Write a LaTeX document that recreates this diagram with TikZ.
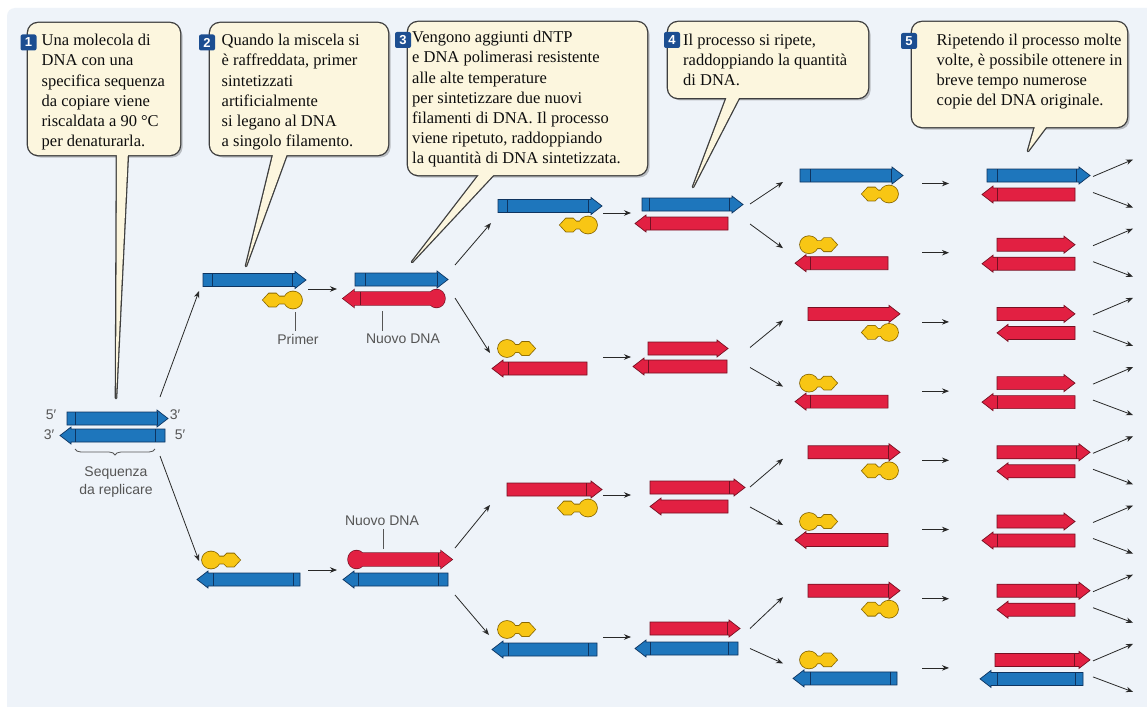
\documentclass[tikz,border=0pt]{standalone}
\usepackage{fontspec}
\setmainfont{Liberation Serif}
\newfontfamily\lblfont{Liberation Sans}
\usetikzlibrary{arrows.meta,decorations.pathreplacing}

\definecolor{bgblue}{RGB}{238,243,249}
\definecolor{cream}{RGB}{252,246,222}
\definecolor{boxline}{RGB}{62,62,62}
\definecolor{dnablue}{RGB}{30,118,188}
\definecolor{dnabluedk}{RGB}{14,52,96}
\definecolor{dnared}{RGB}{226,32,66}
\definecolor{dnareddk}{RGB}{118,16,34}
\definecolor{primery}{RGB}{248,198,20}
\definecolor{primerdk}{RGB}{138,104,0}
\definecolor{badgeblue}{RGB}{28,78,145}
\definecolor{labelgray}{RGB}{85,85,85}
\definecolor{arrowgray}{RGB}{40,40,40}

\tikzset{
 flow/.style={arrowgray, line width=0.8pt, -{Stealth[length=7pt,width=5.5pt]}},
 lbl/.style={font=\lblfont\fontsize{14}{17}\selectfont, text=labelgray, inner sep=1pt},
 lblline/.style={labelgray, line width=0.8pt},
 ctext/.style={font=\fontsize{16.5}{20.2}\selectfont, align=left, inner sep=0pt, anchor=north west, text=black!95},
 badge/.style={fill=badgeblue, rounded corners=2pt, minimum size=16pt, inner sep=0pt, text=white, font=\lblfont\bfseries\fontsize{13}{13}\selectfont},
 boxedge/.style={boxline, line width=2.6pt, line join=round},
 strandedge/.style={line width=0.7pt, line join=miter},
 primeredge/.style={primerdk, line width=1.6pt, line join=miter, miter limit=3},
 bulbedge/.style={dnareddk, line width=1.4pt, line join=miter},
}

% right-pointing strand: x1 x2 yc colour
\newcommand{\dnaR}[4]{\filldraw[strandedge, fill=#4, draw=#4dk] (#1,#3-6.5) -- (#2-11,#3-6.5) -- (#2-11,#3-8.5) -- (#2,#3) -- (#2-11,#3+8.5) -- (#2-11,#3+6.5) -- (#1,#3+6.5) -- cycle;}
% left-pointing strand
\newcommand{\dnaL}[4]{\filldraw[strandedge, fill=#4, draw=#4dk] (#1,#3) -- (#1+11,#3-8.5) -- (#1+11,#3-6.5) -- (#2,#3-6.5) -- (#2,#3+6.5) -- (#1+11,#3+6.5) -- (#1+11,#3+8.5) -- cycle;}
% mark: x yc colour
\newcommand{\mk}[3]{\draw[#3dk, line width=0.7pt] (#1,#2-6.5) -- (#1,#2+6.5);}
% primer pointing left: tip x1, bulb end x2, yc
\newcommand{\primerL}[3]{%
 \draw[primeredge] (#1,#3) -- (#1+6,#3-6.5) -- (#1+13,#3-6.5) -- (#1+16,#3-3.5) -- (#2-12,#3-3.5) -- (#2-12,#3+3.5) -- (#1+16,#3+3.5) -- (#1+13,#3+6.5) -- (#1+6,#3+6.5) -- cycle (#2-9,#3) ellipse [x radius=9pt, y radius=8.5pt];
 \fill[primery] (#1,#3) -- (#1+6,#3-6.5) -- (#1+13,#3-6.5) -- (#1+16,#3-3.5) -- (#2-12,#3-3.5) -- (#2-12,#3+3.5) -- (#1+16,#3+3.5) -- (#1+13,#3+6.5) -- (#1+6,#3+6.5) -- cycle;
 \fill[primery] (#2-9,#3) ellipse [x radius=9pt, y radius=8.5pt];}
% primer pointing right: bulb x1, tip x2, yc
\newcommand{\primerR}[3]{%
 \draw[primeredge] (#2,#3) -- (#2-6,#3-6.5) -- (#2-13,#3-6.5) -- (#2-16,#3-3.5) -- (#1+12,#3-3.5) -- (#1+12,#3+3.5) -- (#2-16,#3+3.5) -- (#2-13,#3+6.5) -- (#2-6,#3+6.5) -- cycle (#1+9,#3) ellipse [x radius=9pt, y radius=8.5pt];
 \fill[primery] (#2,#3) -- (#2-6,#3-6.5) -- (#2-13,#3-6.5) -- (#2-16,#3-3.5) -- (#1+12,#3-3.5) -- (#1+12,#3+3.5) -- (#2-16,#3+3.5) -- (#2-13,#3+6.5) -- (#2-6,#3+6.5) -- cycle;
 \fill[primery] (#1+9,#3) ellipse [x radius=9pt, y radius=8.5pt];}
% new red strand with bulb at right end, pointing left
\newcommand{\bulbL}[3]{%
 \draw[bulbedge] (#1,#3) -- (#1+11,#3-8.5) -- (#1+11,#3-6.5) -- (#2-8,#3-6.5) -- (#2-8,#3+6.5) -- (#1+11,#3+6.5) -- (#1+11,#3+8.5) -- cycle (#2-8.5,#3) ellipse [x radius=8.5pt, y radius=9pt];
 \fill[dnared] (#1,#3) -- (#1+11,#3-8.5) -- (#1+11,#3-6.5) -- (#2-8,#3-6.5) -- (#2-8,#3+6.5) -- (#1+11,#3+6.5) -- (#1+11,#3+8.5) -- cycle;
 \fill[dnared] (#2-8.5,#3) ellipse [x radius=8.5pt, y radius=9pt];}
% new red strand with bulb at left end, pointing right
\newcommand{\bulbR}[3]{%
 \draw[bulbedge] (#2,#3) -- (#2-11,#3-8.5) -- (#2-11,#3-6.5) -- (#1+8,#3-6.5) -- (#1+8,#3+6.5) -- (#2-11,#3+6.5) -- (#2-11,#3+8.5) -- cycle (#1+8.5,#3) ellipse [x radius=8.5pt, y radius=9pt];
 \fill[dnared] (#2,#3) -- (#2-11,#3-8.5) -- (#2-11,#3-6.5) -- (#1+8,#3-6.5) -- (#1+8,#3+6.5) -- (#2-11,#3+6.5) -- (#2-11,#3+8.5) -- cycle;
 \fill[dnared] (#1+8.5,#3) ellipse [x radius=8.5pt, y radius=9pt];}
% callout: x1 y1 x2 y2 tailA tailB tipx tipy
\newcommand{\callout}[8]{%
 \fill[black,opacity=.22,rounded corners=10pt] (#1+2.5,#2+2.5) rectangle (#3+2.5,#4+2.5);
 \draw[boxedge, rounded corners=10pt] (#1,#2) rectangle (#3,#4);
 \draw[boxedge] (#5,#4-4) -- (#7,#8) -- (#6,#4-4);
 \fill[cream, rounded corners=10pt] (#1,#2) rectangle (#3,#4);
 \fill[cream] (#5,#4-4) -- (#7,#8) -- (#6,#4-4) -- cycle;}

\begin{document}
\begin{tikzpicture}[x=1pt,y=-1pt]
\useasboundingbox (0,0) rectangle (1147,706);
\fill[white] (0,0) rectangle (1147,706);
\begin{scope}
 \clip (0,0) rectangle (1147,706);
 \fill[bgblue, rounded corners=8pt] (7,8) rectangle (1175,735);
\end{scope}

% ---------- callouts ----------
\callout{28}{23}{180}{155}{117}{128}{116}{398}
\callout{210}{23}{388}{155}{274}{288}{246}{266}
\callout{408}{22}{647}{175}{482}{497}{412}{262}
\callout{668}{22}{868}{98}{728}{741}{693}{187}
\callout{912}{22}{1127}{127}{1036}{1049}{1028}{151}

\node[badge] (b1) at (28.5,42.5) {1};
\node[badge] (b2) at (207,42.5) {2};
\node[badge] (b3) at (403,40) {3};
\node[badge] (b4) at (672,40) {4};
\node[badge] (b5) at (909,41) {5};

\node[ctext] (t1) at (41.5,34) {Una molecola di\\DNA con una\\specifica sequenza\\da copiare viene\\riscaldata a 90 °C\\per denaturarla.};
\node[ctext] (t2) at (221.5,34) {Quando la miscela si\\è raffreddata, primer\\sintetizzati\\artificialmente\\si legano al DNA\\a singolo filamento.};
\node[ctext] (t3) at (412,31) {Vengono aggiunti dNTP\\e DNA polimerasi resistente\\alle alte temperature\\per sintetizzare due nuovi\\filamenti di DNA. Il processo\\viene ripetuto, raddoppiando\\la quantità di DNA sintetizzata.};
\node[ctext] (t4) at (683,33.5) {Il processo si ripete,\\raddoppiando la quantità\\di DNA.};
\node[ctext] (t5) at (936.5,33.5) {Ripetendo il processo molte\\volte, è possibile ottenere in\\breve tempo numerose\\copie del DNA originale.};

% ---------- step 1 ----------
\dnaR{67}{168}{418.5}{dnablue} \mk{75}{418.5}{dnablue} \mk{157}{418.5}{dnablue}
\dnaL{60}{165}{435.5}{dnablue} \mk{75}{435.5}{dnablue} \mk{155}{435.5}{dnablue}
\node[lbl] (p5a) at (51,415) {5′};
\node[lbl] (p3a) at (175,415) {3′};
\node[lbl] (p3b) at (49,435) {3′};
\node[lbl] (p5b) at (180,435) {5′};
\draw[labelgray, line width=0.8pt, decorate, decoration={brace, amplitude=6pt}] (155,449) -- (75,449);
\node[lbl, align=center, font=\lblfont\fontsize{14}{18}\selectfont] (seq) at (116,482) {Sequenza\\da replicare};

\coordinate (a1s) at (160,397); \coordinate (a1e) at (199,291);
\coordinate (a2s) at (160,456); \coordinate (a2e) at (199,561);
\draw[flow] (a1s) -- (a1e);
\draw[flow] (a2s) -- (a2e);

% ---------- step 2 ----------
\dnaR{203}{306}{280}{dnablue} \mk{212}{280}{dnablue} \mk{292}{280}{dnablue}
\primerL{263}{302}{300}
\primerR{202}{240}{560}
\dnaL{197}{300}{579.5}{dnablue} \mk{213}{579.5}{dnablue} \mk{293}{579.5}{dnablue}

\node[lbl] (lprim) at (298,339) {Primer};
\coordinate (cprim) at (295,312);
\draw[lblline, shorten >=2pt] (cprim) -- (cprim |- lprim.north);

\coordinate (b2s) at (308,289); \coordinate (b2e) at (337,289);
\coordinate (b3s) at (308,570); \coordinate (b3e) at (337,570);
\draw[flow] (b2s) -- (b2e);
\draw[flow] (b3s) -- (b3e);

% ---------- step 3 ----------
\dnaR{355}{448}{279.5}{dnablue} \mk{365}{279.5}{dnablue} \mk{437}{279.5}{dnablue}
\bulbL{343}{445}{298.5} \mk{360}{298.5}{dnared}
\bulbR{348}{452}{559.5} \mk{438}{559.5}{dnared}
\dnaL{343}{448}{579.5}{dnablue} \mk{358}{579.5}{dnablue} \mk{438}{579.5}{dnablue}

\node[lbl] (lnew1) at (403,339) {Nuovo DNA};
\coordinate (cnew1) at (382,311);
\draw[lblline, shorten >=2pt] (cnew1) -- (cnew1 |- lnew1.north);
\node[lbl] (lnew2) at (382,521) {Nuovo DNA};
\coordinate (cnew2) at (383,549);
\draw[lblline, shorten >=2pt] (cnew2) -- (cnew2 |- lnew2.south);

\coordinate (c1s) at (455,265); \coordinate (c1e) at (491,223);
\coordinate (c2s) at (455,298); \coordinate (c2e) at (490,353);
\coordinate (c3s) at (455,548); \coordinate (c3e) at (490,505);
\coordinate (c4s) at (455,595); \coordinate (c4e) at (489,635);
\foreach \n in {1,2,3,4} {\draw[flow] (c\n s) -- (c\n e);}

% ---------- step 4 ----------
\dnaR{498}{602}{206}{dnablue} \mk{507}{206}{dnablue} \mk{588}{206}{dnablue}
\primerL{560}{597}{225}
\primerR{498}{535}{348.5}
\dnaL{492}{587}{368.5}{dnared} \mk{508}{368.5}{dnared}
\dnaR{507}{602}{489.5}{dnared} \mk{586}{489.5}{dnared}
\primerL{558}{597}{508}
\primerR{498}{535}{629.5}
\dnaL{492}{597}{649.5}{dnablue} \mk{508}{649.5}{dnablue} \mk{588}{649.5}{dnablue}

\coordinate (d1s) at (603,213); \coordinate (d1e) at (631,213);
\coordinate (d2s) at (603,357); \coordinate (d2e) at (631,357);
\coordinate (d3s) at (603,495); \coordinate (d3e) at (631,495);
\coordinate (d4s) at (603,637); \coordinate (d4e) at (631,637);
\foreach \n in {1,2,3,4} {\draw[flow] (d\n s) -- (d\n e);}

% ---------- step 5 ----------
\dnaR{642}{743}{204.5}{dnablue} \mk{649}{204.5}{dnablue} \mk{729}{204.5}{dnablue}
\dnaL{635}{728}{223.5}{dnared} \mk{650}{223.5}{dnared}
\dnaR{648}{728}{348.5}{dnared}
\dnaL{633}{727}{366.5}{dnared} \mk{648}{366.5}{dnared}
\dnaR{650}{745}{487.5}{dnared} \mk{729}{487.5}{dnared}
\dnaL{650}{728}{506.5}{dnared}
\dnaR{650}{740}{628.5}{dnared} \mk{727}{628.5}{dnared}
\dnaL{635}{738}{648.5}{dnablue} \mk{650}{648.5}{dnablue} \mk{728}{648.5}{dnablue}

% arrows step 5 -> column 6
\foreach \j/\c/\ua/\ub in {1/214/175.5/244.7, 2/357.5/313.9/383.1, 3/497/452.3/521.5, 4/638.5/590.7/659.9} {
 \coordinate (e\j a) at (750,\c-10); \coordinate (f\j a) at (783,\ua+6.5);
 \coordinate (e\j b) at (750,\c+10); \coordinate (f\j b) at (783,\ub+3.5);
 \draw[flow] (e\j a) -- (f\j a);
 \draw[flow] (e\j b) -- (f\j b);
}

% ---------- column 6 ----------
\dnaR{800}{903}{175.5}{dnablue} \mk{810}{175.5}{dnablue} \mk{891}{175.5}{dnablue}
\primerL{862}{898}{194}
\primerR{800}{837}{244.7}
\dnaL{795}{888}{263.2}{dnared} \mk{810}{263.2}{dnared}
\dnaR{808}{900}{313.9}{dnared}
\primerL{862}{898}{332.4}
\primerR{800}{837}{383.1}
\dnaL{795}{888}{401.6}{dnared} \mk{810}{401.6}{dnared}
\dnaR{808}{900}{452.3}{dnared} \mk{888}{452.3}{dnared}
\primerL{862}{898}{470.8}
\primerR{800}{837}{521.5}
\dnaL{795}{888}{540}{dnared}
\dnaR{808}{900}{590.7}{dnared} \mk{888}{590.7}{dnared}
\primerL{862}{898}{609.2}
\primerR{800}{837}{659.9}
\dnaL{793}{897}{678.4}{dnablue} \mk{810}{678.4}{dnablue} \mk{890}{678.4}{dnablue}

% arrows column 6 -> 7 and outgoing arrows
\foreach \k/\u in {1/175.5, 2/244.7, 3/313.9, 4/383.1, 5/452.3, 6/521.5, 7/590.7, 8/659.9} {
 \coordinate (g\k s) at (922,\u+8); \coordinate (g\k e) at (949,\u+8);
 \draw[flow] (g\k s) -- (g\k e);
 \coordinate (h\k a) at (1093,\u+1); \coordinate (i\k a) at (1133,\u-16);
 \coordinate (h\k b) at (1093,\u+17); \coordinate (i\k b) at (1133,\u+32);
 \draw[flow] (h\k a) -- (i\k a);
 \draw[flow] (h\k b) -- (i\k b);
}

% ---------- column 7 ----------
\dnaR{987}{1090}{175.5}{dnablue} \mk{997}{175.5}{dnablue} \mk{1076}{175.5}{dnablue}
\dnaL{982}{1075}{194.5}{dnared} \mk{997}{194.5}{dnared}
\dnaR{997}{1075}{244.7}{dnared}
\dnaL{982}{1075}{263.7}{dnared} \mk{997}{263.7}{dnared}
\dnaR{997}{1075}{313.9}{dnared}
\dnaL{997}{1075}{332.9}{dnared}
\dnaR{997}{1075}{383.1}{dnared}
\dnaL{982}{1075}{402.1}{dnared} \mk{997}{402.1}{dnared}
\dnaR{997}{1090}{452.3}{dnared} \mk{1076}{452.3}{dnared}
\dnaL{997}{1075}{471.3}{dnared}
\dnaR{997}{1075}{521.5}{dnared}
\dnaL{982}{1075}{540.5}{dnared} \mk{997}{540.5}{dnared}
\dnaR{997}{1090}{590.7}{dnared} \mk{1076}{590.7}{dnared}
\dnaL{997}{1075}{609.7}{dnared}
\dnaR{995}{1090}{659.9}{dnared} \mk{1074}{659.9}{dnared}
\dnaL{980}{1083}{678.9}{dnablue} \mk{997}{678.9}{dnablue} \mk{1075}{678.9}{dnablue}
\end{tikzpicture}
\end{document}
